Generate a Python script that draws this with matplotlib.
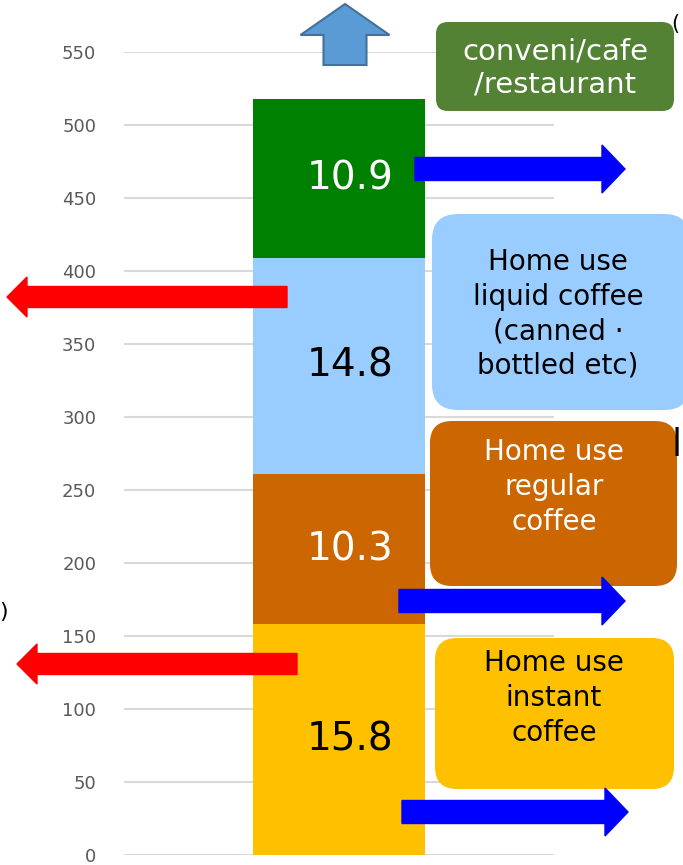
import matplotlib
matplotlib.use("Agg")
import matplotlib.pyplot as plt
from matplotlib.patches import FancyBboxPatch, FancyArrow

# Coffee consumption by channel (stack order: bottom to top)
categories = ["Home use instant coffee", "Home use regular coffee",
              "Home use liquid coffee", "conveni/cafe/restaurant"]
values = [15.8, 10.3, 14.8, 10.9]
seg_colors = ["#FFC000", "#CC6600", "#99CCFF", "#008000"]
label_colors = ["black", "white", "black", "white"]
yticks = [0, 50, 100, 150, 200, 250, 300, 350, 400, 450, 500, 550]

W, H = 683, 865
fig = plt.figure(figsize=(W / 100, H / 100), dpi=100)

# main axes: bars in units of 0.1 (value * 10)
ax = fig.add_axes([124 / W, 1 - 855 / H, 430 / W, (855 - 52) / H])
scale = 10
bottom = 0.0
for v, c, lc in zip(values, seg_colors, label_colors):
    h = v * scale
    ax.bar(0, h, width=0.8, bottom=bottom, color=c, zorder=2)
    ax.text(0.05, bottom + h / 2, f"{v:.1f}", ha="center", va="center",
            fontsize=28, color=lc, zorder=3)
    bottom += h

ax.set_xlim(-1, 1)
ax.set_ylim(0, 550)
ax.set_yticks(yticks)
ax.set_xticks([])
ax.tick_params(axis="y", length=0, pad=20, labelsize=13, labelcolor="#595959")
ax.grid(axis="y", color="#d9d9d9", linewidth=1.5, zorder=0)
for s in ax.spines.values():
    s.set_visible(False)

# overlay in pixel coordinates for call-out boxes and arrows
ov = fig.add_axes([0, 0, 1, 1], zorder=5)
ov.set_xlim(0, W)
ov.set_ylim(H, 0)
ov.axis("off")
ov.patch.set_alpha(0)


def box(x0, y0, x1, y1, color, r):
    ov.add_patch(FancyBboxPatch((x0, y0), x1 - x0, y1 - y0,
                                boxstyle=f"round,pad=0,rounding_size={r}",
                                facecolor=color, edgecolor="none", clip_on=False))


box(436, 22, 674, 111, "#548235", 12)
ov.text(555, 68, "conveni/cafe\n/restaurant", ha="center", va="center",
        fontsize=21, color="white", linespacing=1.25)

box(432, 214, 690, 410, "#99CCFF", 26)
ov.text(558, 314, "Home use\nliquid coffee\n(canned ·\nbottled etc)", ha="center",
        va="center", fontsize=20, color="black", linespacing=1.3)

box(430, 421, 677, 586, "#CC6600", 22)
ov.text(554, 487, "Home use\nregular\ncoffee", ha="center", va="center",
        fontsize=20, color="white", linespacing=1.3)

box(435, 638, 674, 789, "#FFC000", 22)
ov.text(554, 698, "Home use\ninstant\ncoffee", ha="center", va="center",
        fontsize=20, color="black", linespacing=1.3)

# right-pointing blue arrows
for x0, yc, tip in [(415, 169, 625), (399, 601, 625), (402, 812, 628)]:
    ov.add_patch(FancyArrow(x0, yc, tip - x0, 0, width=23, head_width=48,
                            head_length=23, length_includes_head=True,
                            color="#0000FF", clip_on=False))

# left-pointing red arrows
for x0, yc, tip in [(287, 297, 7), (297, 664, 17)]:
    ov.add_patch(FancyArrow(x0, yc, tip - x0, 0, width=21, head_width=40,
                            head_length=20, length_includes_head=True,
                            color="#FF0000", clip_on=False))

# upward arrow above the stack
ov.add_patch(FancyArrow(345, 65, 0, -61, width=43, head_width=89,
                        head_length=31, length_includes_head=True,
                        facecolor="#5B9BD5", edgecolor="#41719C",
                        linewidth=1.5, clip_on=False))

# fragments of neighbouring text at the edges
ov.text(671, 24, "(", fontsize=15, color="black", ha="left", va="center")
ov.text(-1, 612, ")", fontsize=16, color="black", ha="left", va="center")
ov.text(682, 442, "|", fontsize=20, color="black", ha="right", va="center",
        fontweight="bold")

fig.savefig("out.png", dpi=100)
